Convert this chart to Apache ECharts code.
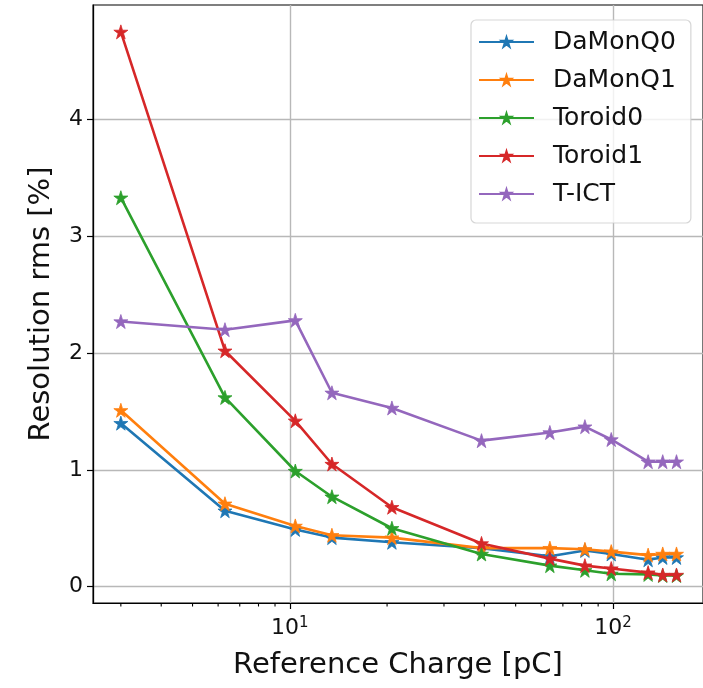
<!DOCTYPE html>
<html>
<head>
<meta charset="utf-8">
<script src="https://cdn.jsdelivr.net/npm/echarts@6/dist/echarts.min.js"></script>
<style>
  html, body { margin: 0; padding: 0; background: #fff; }
  #chart { width: 703px; height: 688px; }
</style>
</head>
<body>
<div id="chart"></div>
<script>
// reference charge [pC]
const charges = [3.0, 6.3, 10.4, 13.5, 20.7, 39.2, 63.8, 81.9, 98.8, 128.5, 142.6, 157.3]

// resolution rms [%]
const damonQ0 = [1.40, 0.65, 0.49, 0.42, 0.38, 0.33, 0.26, 0.31, 0.28, 0.23, 0.25, 0.25]
const damonQ1 = [1.51, 0.71, 0.52, 0.44, 0.42, 0.33, 0.33, 0.32, 0.30, 0.27, 0.28, 0.28]
const toroid0 = [3.33, 1.62, 0.99, 0.77, 0.50, 0.28, 0.18, 0.14, 0.11, 0.105, 0.095, 0.095]
const toroid1 = [4.75, 2.02, 1.42, 1.05, 0.68, 0.37, 0.24, 0.18, 0.155, 0.12, 0.10, 0.10]
const tICT = [2.27, 2.20, 2.28, 1.66, 1.53, 1.25, 1.32, 1.37, 1.26, 1.07, 1.07, 1.07]

const seriesNames = ['DaMonQ0', 'DaMonQ1', 'Toroid0', 'Toroid1', 'T-ICT']
const seriesValues = [damonQ0, damonQ1, toroid0, toroid1, tICT]
const colors = ['#1f77b4', '#ff7f0e', '#2ca02c', '#d62728', '#9467bd']

const yTicks = [0, 1, 2, 3, 4]
const minorXTicks = [3, 4, 5, 6, 7, 8, 9, 20, 30, 40, 50, 60, 70, 80, 90]

const xMin = 2.46
const xMax = 190
const yMin = -0.14
const yMax = 4.98

const font = 'DejaVu Sans'

// matplotlib-like '*' marker
function starPath() {
  const pts = []
  for (let i = 0; i < 10; i++) {
    const r = i % 2 === 0 ? 1 : 0.381966
    const a = -Math.PI / 2 + i * Math.PI / 5
    pts.push((r * Math.cos(a)).toFixed(4) + ',' + (r * Math.sin(a)).toFixed(4))
  }
  return 'path://M' + pts.join('L') + 'Z'
}
const star = starPath()

const chart = echarts.init(document.getElementById('chart'), null, { renderer: 'canvas' })

const lineSeries = seriesNames.map((name, i) => ({
  name: name,
  type: 'line',
  data: charges.map((c, j) => [c, seriesValues[i][j]]),
  symbol: star,
  symbolSize: 14,
  showSymbol: true,
  lineStyle: { width: 2.6, color: colors[i] },
  itemStyle: { color: colors[i], borderColor: colors[i], borderWidth: 0.8 },
  emphasis: { disabled: true },
  z: 3 + i
}))

const minorTickSeries = {
  type: 'custom',
  silent: true,
  clip: false,
  z: 20,
  data: minorXTicks.map(v => [v, yMin]),
  encode: { x: 0, y: 1 },
  renderItem: function (params, api) {
    const p = api.coord([api.value(0), yMin])
    return {
      type: 'line',
      shape: { x1: p[0], y1: p[1], x2: p[0], y2: p[1] + 3.5 },
      style: { stroke: '#000', lineWidth: 1.1 }
    }
  }
}

chart.setOption({
  animation: false,
  color: colors,
  textStyle: { fontFamily: font },
  grid: {
    left: 93,
    top: 5,
    width: 612,
    height: 598,
    show: true,
    borderColor: '#000',
    borderWidth: 1.2,
    backgroundColor: 'transparent'
  },
  legend: {
    data: seriesNames,
    orient: 'vertical',
    left: 471,
    top: 20,
    padding: [8, 15, 15, 7],
    itemWidth: 55,
    itemHeight: 12,
    itemGap: 10,
    backgroundColor: 'rgba(255,255,255,0.8)',
    borderColor: 'rgba(204,204,204,0.8)',
    borderWidth: 1.2,
    borderRadius: 5,
    textStyle: {
      fontFamily: font,
      fontSize: 25,
      color: '#111',
      lineHeight: 28,
      padding: [0, 0, 0, 14]
    }
  },
  xAxis: {
    type: 'log',
    logBase: 10,
    min: xMin,
    max: xMax,
    name: 'Reference Charge [pC]',
    nameLocation: 'middle',
    nameGap: 48,
    nameTextStyle: { fontFamily: font, fontSize: 29, color: '#111' },
    axisLine: { show: true, onZero: false, lineStyle: { color: '#000', width: 1.2 } },
    axisTick: { show: true, length: 6, lineStyle: { color: '#000', width: 1.2 } },
    splitLine: { show: true, lineStyle: { color: '#b8b8b8', width: 1.4 } },
    axisLabel: {
      margin: 13,
      color: '#111',
      fontFamily: font,
      fontSize: 22,
      showMinLabel: false,
      showMaxLabel: false,
      formatter: function (value) {
        const e = Math.log10(value)
        if (Math.abs(e - Math.round(e)) > 1e-6) return ''
        return '10{sup|' + Math.round(e) + '}'
      },
      rich: {
        sup: { fontSize: 15, verticalAlign: 'top', padding: [0, 0, 10, 0], fontFamily: font, color: '#111' }
      }
    }
  },
  yAxis: {
    type: 'value',
    min: yMin,
    max: yMax,
    name: 'Resolution rms [%]',
    nameLocation: 'middle',
    nameGap: 37,
    nameRotate: 90,
    nameTextStyle: { fontFamily: font, fontSize: 29, color: '#111' },
    axisLine: { show: true, onZero: false, lineStyle: { color: '#000', width: 1.2 } },
    axisTick: {
      show: true,
      length: 6,
      lineStyle: { color: '#000', width: 1.2 },
      customValues: yTicks
    },
    splitLine: { show: true, lineStyle: { color: '#b8b8b8', width: 1.4 } },
    axisLabel: {
      margin: 10,
      color: '#111',
      fontFamily: font,
      fontSize: 22,
      customValues: yTicks,
      formatter: function (v) { return String(Math.round(v)) }
    }
  },
  series: lineSeries.concat([minorTickSeries])
})
</script>
</body>
</html>
